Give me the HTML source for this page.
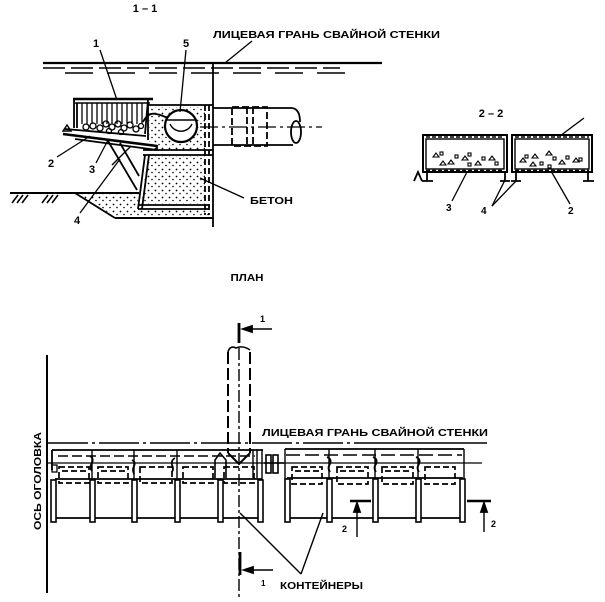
<!DOCTYPE html>
<html><head><meta charset="utf-8">
<style>
html,body{margin:0;padding:0;background:#fff;}
svg{display:block;}
text{font-family:"Liberation Sans","DejaVu Sans",sans-serif;font-weight:bold;fill:#000;}
</style></head>
<body>
<svg width="605" height="602" viewBox="0 0 605 602" xmlns="http://www.w3.org/2000/svg">
<defs>
<pattern id="stip" width="7" height="7" patternUnits="userSpaceOnUse">
<circle cx="1.5" cy="1.5" r="0.9" fill="#000"/>
<circle cx="5" cy="4.5" r="0.8" fill="#000"/>
</pattern>
</defs>
<g stroke="#000" fill="none" stroke-width="1.8">

<!-- ============ SECTION 1-1 ============ -->
<text x="145" y="12" font-size="11" text-anchor="middle" stroke="none">1 – 1</text>
<text x="213" y="38" font-size="10.5" textLength="227" lengthAdjust="spacingAndGlyphs" stroke="none">ЛИЦЕВАЯ ГРАНЬ СВАЙНОЙ СТЕНКИ</text>
<line x1="252" y1="41" x2="225" y2="63" stroke-width="1.3"/>
<line x1="43" y1="63" x2="382" y2="63" stroke-width="2.2"/>
<line x1="43" y1="68" x2="340" y2="68" stroke-dasharray="22 6" stroke-width="1.4"/>
<line x1="65" y1="73" x2="355" y2="73" stroke-dasharray="28 14" stroke-width="1.4"/>
<line x1="213" y1="63" x2="213" y2="227" stroke-width="1.8"/>

<!-- concrete fills -->
<path d="M149,107 H205 V150 H149 Z" fill="url(#stip)" stroke="none"/>
<circle cx="181" cy="126" r="17" fill="#fff" stroke="none"/>
<path d="M148,156 H205 V204 H141 Z" fill="url(#stip)" stroke="none"/>
<path d="M76,194 L139,194 L137,210 L210,210 L210,217 L116,217 Z" fill="url(#stip)" stroke="none"/>

<!-- upper box -->
<line x1="148" y1="105" x2="213" y2="105"/>
<line x1="148" y1="103" x2="148" y2="140"/>
<line x1="143" y1="150" x2="213" y2="150"/>
<line x1="143" y1="155" x2="213" y2="155"/>
<line x1="205" y1="105" x2="205" y2="215" stroke-dasharray="6 3"/>
<line x1="209" y1="105" x2="209" y2="215" stroke-dasharray="6 3"/>
<circle cx="181" cy="126" r="16" stroke-width="2.2"/>
<path d="M167,120 H196" stroke-width="1.4"/>
<path d="M170,124 A12 12 0 0 0 192 124" stroke-width="1.4"/>
<!-- lower box -->
<line x1="145" y1="155" x2="138" y2="209"/>
<line x1="149" y1="155" x2="142" y2="209"/>
<line x1="138" y1="205" x2="209" y2="205"/>
<line x1="138" y1="209" x2="209" y2="209"/>
<!-- ground -->
<line x1="10" y1="193" x2="139" y2="193" stroke-width="2"/>
<line x1="75" y1="193" x2="115" y2="218"/>
<line x1="115" y1="218" x2="213" y2="218" stroke-width="2"/>
<g stroke-width="1.6">
<line x1="12" y1="203" x2="18" y2="195"/><line x1="17" y1="203" x2="23" y2="195"/><line x1="22" y1="203" x2="28" y2="195"/>
<line x1="42" y1="203" x2="48" y2="195"/><line x1="47" y1="203" x2="53" y2="195"/><line x1="52" y1="203" x2="58" y2="195"/>
</g>

<!-- container 1 -->
<line x1="73" y1="99" x2="153" y2="99" stroke-width="2.4"/>
<line x1="75" y1="103" x2="150" y2="103" stroke-width="1.4"/>
<line x1="74" y1="99" x2="74" y2="128"/>
<line x1="77" y1="103" x2="77" y2="128"/>
<line x1="148" y1="100" x2="145" y2="134"/>
<g stroke-width="1.3">
<line x1="82" y1="103" x2="82" y2="124"/><line x1="87" y1="103" x2="87" y2="124"/><line x1="92" y1="103" x2="92" y2="124"/>
<line x1="97" y1="103" x2="97" y2="124"/><line x1="102" y1="103" x2="102" y2="124"/><line x1="107" y1="103" x2="107" y2="124"/>
<line x1="112" y1="103" x2="112" y2="124"/><line x1="117" y1="103" x2="117" y2="124"/><line x1="122" y1="103" x2="122" y2="124"/>
<line x1="127" y1="103" x2="127" y2="124"/><line x1="132" y1="103" x2="132" y2="124"/><line x1="137" y1="103" x2="137" y2="124"/>
<line x1="142" y1="103" x2="142" y2="124"/>
</g>
<g stroke-width="1.3">
<circle cx="86" cy="127" r="3"/><circle cx="93" cy="126" r="3"/><circle cx="100" cy="128" r="3"/><circle cx="106" cy="124" r="3"/>
<circle cx="112" cy="127" r="3"/><circle cx="118" cy="124" r="3"/><circle cx="124" cy="128" r="3"/><circle cx="130" cy="125" r="3"/>
<circle cx="136" cy="129" r="3"/><circle cx="141" cy="126" r="2.5"/><circle cx="109" cy="131" r="2.5"/><circle cx="121" cy="132" r="2.5"/>
</g>
<path d="M143,122 Q148,112 156,114 Q162,115 167,118" stroke-width="1.8"/>
<!-- tray -->
<line x1="65" y1="129" x2="146" y2="136"/>
<line x1="63" y1="134" x2="157" y2="146" stroke-width="2.6"/>
<line x1="75" y1="139" x2="157" y2="150"/>
<line x1="157" y1="145" x2="157" y2="150"/>
<path d="M63,131 L67,125 L71,131 Z" stroke-width="1.4"/>
<!-- struts -->
<line x1="108" y1="141" x2="137" y2="190"/>
<line x1="120" y1="143" x2="139" y2="176"/>
<line x1="131" y1="146" x2="112" y2="165" stroke-width="1.4"/>

<!-- labels section 1 -->
<text x="93" y="47" font-size="11" stroke="none">1</text>
<line x1="100" y1="50" x2="117" y2="100" stroke-width="1.3"/>
<text x="183" y="47" font-size="11" stroke="none">5</text>
<line x1="186" y1="50" x2="180" y2="112" stroke-width="1.3"/>
<text x="48" y="167" font-size="11" stroke="none">2</text>
<line x1="57" y1="157" x2="90" y2="136" stroke-width="1.3"/>
<text x="89" y="173" font-size="11" stroke="none">3</text>
<line x1="96" y1="163" x2="108" y2="140" stroke-width="1.3"/>
<text x="74" y="224" font-size="11" stroke="none">4</text>
<line x1="80" y1="213" x2="120" y2="159" stroke-width="1.3"/>
<text x="250" y="204" font-size="10.5" textLength="43" lengthAdjust="spacingAndGlyphs" stroke="none">БЕТОН</text>
<line x1="244" y1="198" x2="200" y2="178" stroke-width="1.3"/>

<!-- pipe right -->
<line x1="213" y1="108" x2="292" y2="108"/>
<line x1="213" y1="145" x2="293" y2="145"/>
<path d="M292,108 Q300,109 300,122" />
<ellipse cx="296" cy="132" rx="5" ry="11"/>
<line x1="200" y1="127" x2="322" y2="127" stroke-dasharray="18 4 3 4" stroke-width="1.3"/>
<rect x="232" y="107" width="35" height="39" stroke-dasharray="7 3" stroke-width="1.8"/>
<line x1="247" y1="107" x2="247" y2="146" stroke-dasharray="7 3"/>
<line x1="253" y1="107" x2="253" y2="146" stroke-dasharray="7 3"/>

<!-- ============ SECTION 2-2 ============ -->
<text x="491" y="117" font-size="11" text-anchor="middle" stroke="none">2 – 2</text>
<rect x="423" y="135" width="84" height="37" stroke-width="2"/>
<rect x="426" y="139" width="78" height="30" stroke-width="1.4"/>
<line x1="426" y1="137" x2="504" y2="137" stroke-dasharray="4 2" stroke-width="1.4"/>
<line x1="426" y1="170.5" x2="504" y2="170.5" stroke-dasharray="4 2" stroke-width="1.4"/>
<rect x="512" y="135" width="80" height="37" stroke-width="2"/>
<rect x="515" y="139" width="74" height="30" stroke-width="1.4"/>
<line x1="515" y1="137" x2="589" y2="137" stroke-dasharray="4 2" stroke-width="1.4"/>
<line x1="515" y1="170.5" x2="589" y2="170.5" stroke-dasharray="4 2" stroke-width="1.4"/>
<g stroke-width="1.1">
<path d="M433,157 l3,-4 l3,4 z"/><rect x="440" y="152" width="3" height="3"/><path d="M448,164 l3,-4 l3,4 z"/>
<rect x="455" y="155" width="3" height="3"/><path d="M462,160 l3,-4 l3,4 z"/><rect x="468" y="153" width="3" height="3"/>
<path d="M475,165 l3,-4 l3,4 z"/><rect x="482" y="157" width="3" height="3"/><path d="M489,160 l3,-4 l3,4 z"/>
<rect x="495" y="162" width="3" height="3"/><path d="M440,165 l3,-4 l3,4 z"/><rect x="468" y="163" width="3" height="3"/>
<path d="M520,162 l3,-4 l3,4 z"/><rect x="525" y="155" width="3" height="3"/><path d="M532,158 l3,-4 l3,4 z"/>
<rect x="540" y="162" width="3" height="3"/><path d="M546,155 l3,-4 l3,4 z"/><rect x="553" y="157" width="3" height="3"/>
<path d="M559,164 l3,-4 l3,4 z"/><rect x="566" y="156" width="3" height="3"/><path d="M573,162 l3,-4 l3,4 z"/>
<rect x="579" y="158" width="3" height="3"/><path d="M530,166 l3,-4 l3,4 z"/><rect x="548" y="165" width="3" height="3"/>
</g>
<!-- feet -->
<g stroke-width="1.8">
<path d="M427,172 V181 M422,181 H433"/>
<path d="M414,181 L418,172 L422,181"/>
<path d="M505,172 V181 M500,181 H510"/>
<path d="M516,172 V181 M511,181 H521"/>
<path d="M588,172 V181 M583,181 H594"/>
</g>
<text x="446" y="211" font-size="10" stroke="none">3</text>
<line x1="452" y1="201" x2="467" y2="172" stroke-width="1.3"/>
<text x="481" y="214" font-size="10" stroke="none">4</text>
<line x1="492" y1="206" x2="505" y2="180" stroke-width="1.3"/>
<line x1="492" y1="206" x2="516" y2="181" stroke-width="1.3"/>
<text x="568" y="214" font-size="10" stroke="none">2</text>
<line x1="570" y1="204" x2="551" y2="171" stroke-width="1.3"/>
<line x1="560" y1="136" x2="584" y2="118" stroke-width="1.3"/>

<!-- ============ PLAN ============ -->
<text x="247" y="281" font-size="10" text-anchor="middle" textLength="33" lengthAdjust="spacingAndGlyphs" stroke="none">ПЛАН</text>
<!-- section mark 1 top -->
<line x1="239" y1="323" x2="239" y2="343" stroke-width="2.8"/>
<line x1="243" y1="329" x2="272" y2="329" stroke-width="1.4"/>
<path d="M243,329 L252,326 L252,332 Z" fill="#000"/>
<text x="260" y="322" font-size="9" stroke="none">1</text>
<!-- pipe plan -->
<line x1="228" y1="352" x2="228" y2="453" stroke-dasharray="12 4" stroke-width="2"/>
<line x1="250" y1="352" x2="250" y2="453" stroke-dasharray="12 4" stroke-width="2"/>
<path d="M228,352 Q230,345 236,348 Q243,345 250,350" stroke-width="1.6"/>
<line x1="239" y1="348" x2="239" y2="453" stroke-dasharray="12 3 3 3" stroke-width="1.4"/>
<line x1="239" y1="453" x2="239" y2="598" stroke-dasharray="12 3 3 3" stroke-width="1.4"/>

<!-- axis -->
<line x1="47" y1="355" x2="47" y2="593" stroke-width="2"/>
<text transform="translate(41,481) rotate(-90)" x="0" y="0" font-size="10.5" text-anchor="middle" textLength="98" lengthAdjust="spacingAndGlyphs" stroke="none">ОСЬ ОГОЛОВКА</text>

<!-- face line -->
<line x1="48" y1="443" x2="390" y2="443" stroke-dasharray="40 4 3 4" stroke-width="1.5"/>
<line x1="390" y1="443" x2="487" y2="443" stroke-width="1.5"/>
<text x="262" y="436" font-size="10.5" textLength="226" lengthAdjust="spacingAndGlyphs" stroke="none">ЛИЦЕВАЯ ГРАНЬ СВАЙНОЙ СТЕНКИ</text>

<!-- axis line through band -->
<line x1="47" y1="463" x2="482" y2="463" stroke-width="1.3"/>

<!-- group 1 -->
<line x1="52" y1="450" x2="263" y2="450" stroke-width="1.8"/>
<line x1="52" y1="450" x2="52" y2="470"/>
<rect x="52" y="465" width="5" height="7" stroke-width="1.3"/>
<line x1="55" y1="479" x2="262" y2="479" stroke-width="1.8"/>
<line x1="56" y1="518" x2="260" y2="518" stroke-width="1.8"/>
<line x1="58" y1="456" x2="255" y2="456" stroke-dasharray="10 4" stroke-width="1.5"/>
<g stroke-width="1.4">
<line x1="92" y1="450" x2="92" y2="480"/><line x1="134" y1="450" x2="134" y2="480"/>
<line x1="177" y1="450" x2="177" y2="480"/><line x1="262" y1="450" x2="262" y2="480"/>
</g>
<g fill="#fff" stroke-width="1.6">
<rect x="51" y="480" width="5" height="42"/>
<rect x="90" y="480" width="5" height="42"/>
<rect x="132" y="480" width="5" height="42"/>
<rect x="175" y="480" width="5" height="42"/>
<rect x="218" y="480" width="5" height="42"/>
<rect x="258" y="480" width="5" height="42"/>
</g>
<g stroke-dasharray="6 3" stroke-width="1.7">
<rect x="59" y="467" width="30" height="16"/>
<rect x="98" y="467" width="30" height="16"/>
<rect x="140" y="467" width="32" height="16"/>
<rect x="183" y="467" width="30" height="16"/>
<rect x="224" y="467" width="30" height="16"/>
<line x1="62" y1="471" x2="86" y2="471"/>
<line x1="101" y1="471" x2="125" y2="471"/>
</g>
<g stroke-width="1.8">
<path d="M90,456 q4,2 2,7 q-3,4 0,8"/>
<path d="M132,460 q4,2 2,6 q-2,4 0,8"/>
<path d="M175,458 q-4,2 -3,7 q2,4 0,7"/>
</g>
<!-- pipe bay details -->
<path d="M228,453 L239,464 L250,453" stroke-width="2"/>
<path d="M215,478 V460 L220,453 L226,460 V478" stroke-width="1.6"/>
<line x1="253" y1="450" x2="253" y2="478" stroke-width="1.4"/>
<line x1="257" y1="450" x2="257" y2="478" stroke-width="1.4"/>
<!-- connector -->
<g stroke-width="1.6">
<rect x="266" y="455" width="5" height="18"/>
<rect x="273" y="455" width="5" height="18"/>
<line x1="264" y1="463" x2="284" y2="463"/>
</g>

<!-- group 2 -->
<line x1="285" y1="449" x2="464" y2="449" stroke-width="1.8"/>
<line x1="285" y1="449" x2="285" y2="480" stroke-width="1.4"/>
<line x1="464" y1="449" x2="464" y2="480" stroke-width="1.4"/>
<line x1="287" y1="478" x2="463" y2="478" stroke-width="1.8"/>
<line x1="289" y1="518" x2="462" y2="518" stroke-width="1.8"/>
<line x1="286" y1="455" x2="462" y2="455" stroke-dasharray="14 5" stroke-width="1.5"/>
<g stroke-width="1.4">
<line x1="329" y1="449" x2="329" y2="480"/><line x1="375" y1="449" x2="375" y2="480"/>
<line x1="418" y1="449" x2="418" y2="480"/>
</g>
<g fill="#fff" stroke-width="1.6">
<rect x="285" y="479" width="5" height="43"/>
<rect x="327" y="479" width="5" height="43"/>
<rect x="373" y="479" width="5" height="43"/>
<rect x="416" y="479" width="5" height="43"/>
<rect x="460" y="479" width="5" height="43"/>
</g>
<g stroke-dasharray="6 3" stroke-width="1.7">
<rect x="292" y="467" width="30" height="17"/>
<rect x="337" y="467" width="31" height="17"/>
<rect x="382" y="467" width="31" height="17"/>
<rect x="425" y="467" width="30" height="17"/>
<line x1="295" y1="471" x2="320" y2="471"/>
<line x1="340" y1="471" x2="365" y2="471"/>
<line x1="385" y1="471" x2="410" y2="471"/>
</g>
<g stroke-width="1.8">
<path d="M327,457 q5,2 3,7 q-3,4 0,8"/>
<path d="M373,457 q5,2 3,7 q-3,4 0,8"/>
<path d="M416,457 q5,2 3,7 q-3,4 0,8"/>
</g>

<!-- section 2 marks -->
<line x1="350" y1="501" x2="371" y2="501" stroke-width="2.5"/>
<line x1="357" y1="503" x2="357" y2="537" stroke-width="1.4"/>
<path d="M357,503 L354,512 L360,512 Z" fill="#000"/>
<text x="342" y="532" font-size="9" stroke="none">2</text>
<line x1="467" y1="501" x2="491" y2="501" stroke-width="2.5"/>
<line x1="484" y1="503" x2="484" y2="532" stroke-width="1.4"/>
<path d="M484,503 L481,512 L487,512 Z" fill="#000"/>
<text x="491" y="527" font-size="9" stroke="none">2</text>

<!-- section 1 bottom -->
<line x1="240" y1="552" x2="240" y2="575" stroke-width="2.8"/>
<line x1="244" y1="570" x2="273" y2="570" stroke-width="1.4"/>
<path d="M244,570 L253,567 L253,573 Z" fill="#000"/>
<text x="261" y="586" font-size="8" stroke="none">1</text>

<!-- КОНТЕЙНЕРЫ -->
<line x1="240" y1="513" x2="301" y2="574" stroke-width="1.4"/>
<line x1="323" y1="513" x2="301" y2="574" stroke-width="1.4"/>
<text x="280" y="589" font-size="10.5" textLength="83" lengthAdjust="spacingAndGlyphs" stroke="none">КОНТЕЙНЕРЫ</text>
</g>
</svg>
</body></html>
